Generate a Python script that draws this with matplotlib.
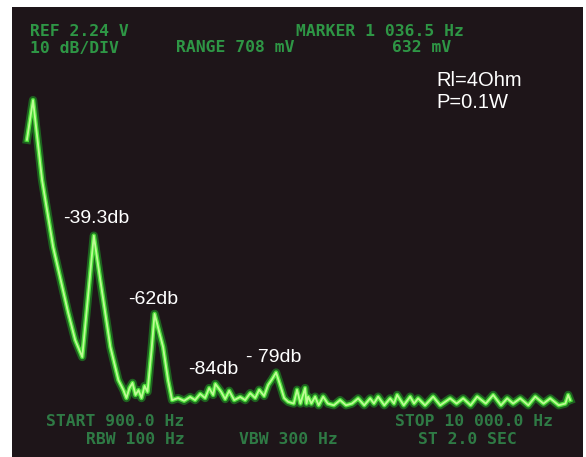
import matplotlib
matplotlib.use("Agg")
import matplotlib.pyplot as plt

# Spectrum trace: frequency (Hz) and level (dB, relative to fundamental)
freq_hz = [900, 1000, 1149, 1331, 1579, 1694, 1810, 2000, 2107, 2273, 2405, 2488,
           2537, 2587, 2637, 2686, 2736, 2785, 2835, 2884, 2950, 3000, 3140, 3222,
           3288, 3387, 3486, 3585, 3667, 3750, 3832, 3898, 3964, 4000, 4096, 4162,
           4228, 4310, 4409, 4491, 4573, 4656, 4721, 4803, 4869, 4935, 5000, 5066,
           5132, 5198, 5290, 5345, 5400, 5477, 5500, 5527, 5580, 5642, 5700, 5774,
           5850, 5950, 6053, 6150, 6250, 6350, 6450, 6547, 6610, 6679, 6780, 6876,
           6940, 6992, 7100, 7206, 7270, 7337, 7450, 7584, 7700, 7864, 7970, 8078,
           8200, 8309, 8450, 8572, 8700, 8803, 8900, 9017, 9150, 9264, 9400, 9510,
           9650, 9760, 9806, 9839]
level_db = [-11.5, 0, -23.2, -42.6, -61.7, -69.6, -74.5, -39.3, -52.2, -71.6, -81.2, -84.1,
            -86.4, -83.5, -82.0, -85.5, -84.1, -86.4, -82.9, -84.6, -72.5, -62.0, -71.6, -81.2,
            -87.0, -86.4, -87.2, -86.1, -87.0, -85.2, -86.4, -83.5, -85.5, -82.3, -84.6, -86.7,
            -84.3, -87.0, -86.1, -87.0, -85.0, -86.4, -84.0, -85.8, -82.6, -80.9, -79.0, -82.6,
            -86.4, -87.5, -88.0, -84.0, -88.0, -83.5, -88.0, -86.0, -88.0, -86.0, -88.5, -86.0,
            -88.0, -88.5, -87.0, -88.5, -88.0, -86.5, -88.5, -86.5, -88.0, -86.0, -88.5, -86.5,
            -88.0, -85.5, -88.5, -86.0, -88.0, -86.5, -88.5, -86.0, -88.5, -86.5, -88.0, -86.5,
            -88.5, -86.0, -88.0, -85.5, -88.5, -86.5, -88.0, -86.5, -88.5, -86.0, -88.0, -86.5,
            -88.5, -88.0, -85.5, -87.0]

# Harmonic annotations (label centre frequency Hz, dB level, text)
ann_freq = [2037, 2975, 3963, 4967]
ann_db = [-34.2, -57.9, -78.2, -74.5]
ann_text = ["-39.3db", "-62db", "-84db", "- 79db"]

# Instrument screen readouts
top_left = ["REF 2.24 V", "10 dB/DIV"]
top_mid = ["MARKER 1 036.5 Hz", "RANGE 708 mV", "632 mV"]
bottom_txt = ["START 900.0 Hz", "RBW 100 Hz", "VBW 300 Hz", "STOP 10 000.0 Hz", "ST 2.0 SEC"]
info_txt = ["Rl=4Ohm", "P=0.1W"]

W, H = 586, 457
fig = plt.figure(figsize=(W / 100, H / 100), dpi=100, facecolor="white")
ax = fig.add_axes([12 / W, 0.0, 571 / W, 450 / H])
ax.set_facecolor("#1e1519")
ax.set_xlim(654, 10050)
ax.set_ylim(-103.5, 27.0)
ax.set_xticks([])
ax.set_yticks([])
for s in ax.spines.values():
    s.set_visible(False)

# glowing trace
ax.plot(freq_hz, level_db, color="#1fbf2a", lw=6, alpha=0.45, solid_joinstyle="round")
ax.plot(freq_hz, level_db, color="#4ee83a", lw=3.2, alpha=0.9, solid_joinstyle="round")
ax.plot(freq_hz, level_db, color="#c4ff9a", lw=1.3, alpha=0.95, solid_joinstyle="round")

# white annotations
for f, d, t in zip(ann_freq, ann_db, ann_text):
    ax.text(f, d, t, color="white", fontsize=14, family="Liberation Sans",
            ha="center", va="center")

# screen readouts in figure pixel coords
def px(x, y):
    return x / W, 1 - y / H

mono = dict(family="DejaVu Sans Mono", fontweight="bold", fontsize=11.8, va="center", ha="left")
top_col = "#2e9645"
bot_col = "#2f7a45"
fig.text(*px(30, 31), top_left[0], color=top_col, **mono)
fig.text(*px(30, 48), top_left[1], color=top_col, **mono)
fig.text(*px(296, 31), top_mid[0], color=top_col, **mono)
fig.text(*px(176, 48), top_mid[1], color=top_col, **mono)
fig.text(*px(392, 48), top_mid[2], color=top_col, **mono)

fig.text(*px(46, 422), bottom_txt[0], color=bot_col, **mono)
fig.text(*px(86, 439), bottom_txt[1], color=bot_col, **mono)
fig.text(*px(239, 439), bottom_txt[2], color=bot_col, **mono)
fig.text(*px(395, 422), bottom_txt[3], color=bot_col, **mono)
fig.text(*px(418, 439), bottom_txt[4], color=bot_col, **mono)

fig.text(*px(436, 81), info_txt[0], color="white", fontsize=14.5, family="Liberation Sans",
         va="center", ha="left")
fig.text(*px(436, 103), info_txt[1], color="white", fontsize=14.5, family="Liberation Sans",
         va="center", ha="left")

fig.savefig("out.png", dpi=100, facecolor="white")
